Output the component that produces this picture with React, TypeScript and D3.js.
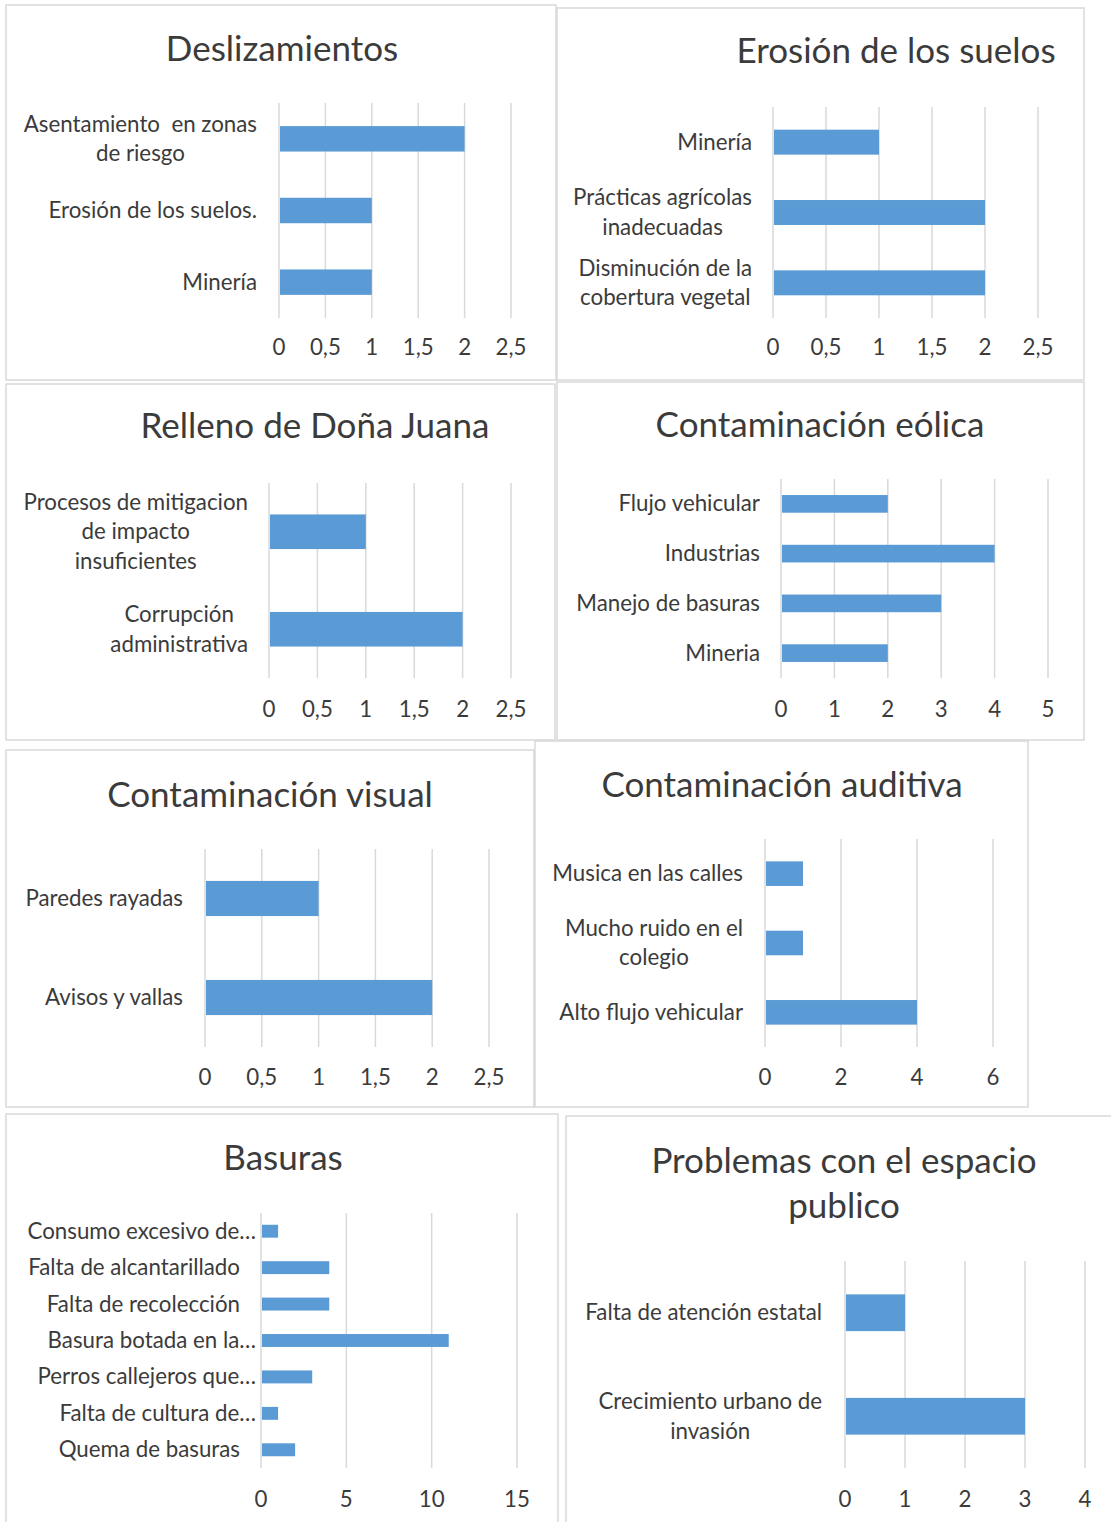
import React, { useEffect, useRef } from "react";
import * as d3 from "d3";

// chart data, categories listed top to bottom
const deslizCats = ["Asentamiento  en zonas\nde riesgo", "Erosión de los suelos.", "Minería"];
const deslizVals = [2, 1, 1];

const erosionCats = ["Minería", "Prácticas agrícolas\ninadecuadas", "Disminución de la\ncobertura vegetal"];
const erosionVals = [1, 2, 2];

const rellenoCats = ["Procesos de mitigacion\nde impacto\ninsuficientes", "Corrupción\nadministrativa"];
const rellenoVals = [1, 2];

const eolicaCats = ["Flujo vehicular", "Industrias", "Manejo de basuras", "Mineria"];
const eolicaVals = [2, 4, 3, 2];

const visualCats = ["Paredes rayadas", "Avisos y vallas"];
const visualVals = [1, 2];

const auditivaCats = ["Musica en las calles", "Mucho ruido en el\ncolegio", "Alto flujo vehicular"];
const auditivaVals = [1, 1, 4];

const basurasCats = [
  "Consumo excesivo de…",
  "Falta de alcantarillado",
  "Falta de recolección",
  "Basura botada en la…",
  "Perros callejeros que…",
  "Falta de cultura de…",
  "Quema de basuras",
];
const basurasVals = [1, 4, 4, 11, 3, 1, 2];

const espacioCats = ["Falta de atención estatal", "Crecimiento urbano de\ninvasión"];
const espacioVals = [1, 3];

// tick labels
const halfTicks = [0, 0.5, 1, 1.5, 2, 2.5];
const fiveTicks = [0, 1, 2, 3, 4, 5];
const sixTicks = [0, 2, 4, 6];
const fifteenTicks = [0, 5, 10, 15];
const fourTicks = [0, 1, 2, 3, 4];

const charts = [
  { title: ["Deslizamientos"], cats: deslizCats, vals: deslizVals, ticks: halfTicks },
  { title: ["Erosión de los suelos"], cats: erosionCats, vals: erosionVals, ticks: halfTicks },
  { title: ["Relleno de Doña Juana"], cats: rellenoCats, vals: rellenoVals, ticks: halfTicks },
  { title: ["Contaminación eólica"], cats: eolicaCats, vals: eolicaVals, ticks: fiveTicks },
  { title: ["Contaminación visual"], cats: visualCats, vals: visualVals, ticks: halfTicks },
  { title: ["Contaminación auditiva"], cats: auditivaCats, vals: auditivaVals, ticks: sixTicks },
  { title: ["Basuras"], cats: basurasCats, vals: basurasVals, ticks: fifteenTicks },
  { title: ["Problemas con el espacio", "publico"], cats: espacioCats, vals: espacioVals, ticks: fourTicks },
];

// where each panel sits on the page
const layouts = [
  { box: [6, 5, 556, 380], x: [279, 511], y: [103, 318], labelRight: 257, title: [282, 61], tickY: 348 },
  { box: [557, 8, 1084, 380], x: [773, 1038], y: [107, 318], labelRight: 752, title: [896, 63], tickY: 348 },
  { box: [6, 384, 555, 740], x: [269, 511], y: [483, 678], labelRight: 248, title: [315, 438], tickY: 710 },
  { box: [557, 382, 1084, 740], x: [781, 1048], y: [479, 678], labelRight: 760, title: [820, 437], tickY: 710 },
  { box: [6, 750, 534, 1107], x: [205, 489], y: [849, 1047], labelRight: 183, title: [270, 807], tickY: 1078 },
  { box: [535, 741, 1028, 1107], x: [765, 993], y: [839, 1047], labelRight: 743, title: [782, 797], tickY: 1078 },
  { box: [6, 1114, 558, 1540], x: [261, 517], y: [1213, 1468], labelRight: 240, ellipsisRight: 256, title: [283, 1170], tickY: 1500 },
  { box: [566, 1116, 1125, 1540], x: [845, 1085], y: [1261, 1468], labelRight: 822, title: [844, 1173], tickY: 1500 },
];

const FONT = "Lato, 'Open Sans', sans-serif";
const TEXT = "#3b3b3b";
const GRID = "#d9d9d9";
const BAR = "#5b9bd5";
const LABEL_SIZE = 22.3;
const TITLE_SIZE = 35;

const App = () => {
  const ref = useRef<SVGSVGElement>(null);

  useEffect(() => {
    const svg = d3.select(ref.current);
    svg.selectAll("*").remove();

    charts.forEach((c, i) => {
      const L: any = layouts[i];
      const g = svg.append("g");

      g.append("rect")
        .attr("x", L.box[0])
        .attr("y", L.box[1])
        .attr("width", L.box[2] - L.box[0])
        .attr("height", L.box[3] - L.box[1])
        .attr("fill", "none")
        .attr("stroke", GRID)
        .attr("stroke-width", 1.5);

      const x = d3.scaleLinear().domain([0, d3.max(c.ticks) as number]).range(L.x);
      const y = d3.scaleBand().domain(c.cats).range(L.y).paddingInner(0.645).paddingOuter(0.3225);

      // gridlines (the first one doubles as the axis line)
      g.selectAll(".grid")
        .data(c.ticks)
        .join("line")
        .attr("x1", d => x(d))
        .attr("x2", d => x(d))
        .attr("y1", L.y[0])
        .attr("y2", L.y[1])
        .attr("stroke", GRID)
        .attr("stroke-width", 1.5);

      g.selectAll(".bar")
        .data(c.vals)
        .join("rect")
        .attr("x", x(0) + 1)
        .attr("y", (d, j) => y(c.cats[j]) as number)
        .attr("width", d => x(d) - x(0) - 1)
        .attr("height", y.bandwidth())
        .attr("fill", BAR);

      // value axis labels, decimal comma
      g.selectAll(".tick")
        .data(c.ticks)
        .join("text")
        .attr("x", d => x(d))
        .attr("y", L.tickY + 7)
        .attr("text-anchor", "middle")
        .attr("font-family", FONT)
        .attr("font-size", LABEL_SIZE)
        .attr("fill", TEXT)
        .text(d => String(d).replace(".", ","));

      // category labels, multi-line ones centred on each other and right aligned as a block
      c.cats.forEach(cat => {
        const lines = cat.split("\n");
        const cy = (y(cat) as number) + y.bandwidth() / 2;
        const right = cat.endsWith("…") && L.ellipsisRight ? L.ellipsisRight : L.labelRight;
        const lh = 29.5;
        const texts = lines.map((ln, k) =>
          g.append("text")
            .attr("y", cy + (k - (lines.length - 1) / 2) * lh + 7.5)
            .attr("font-family", FONT)
            .attr("font-size", LABEL_SIZE)
            .attr("fill", TEXT)
            .style("white-space", "pre")
            .text(ln)
        );
        const widths = texts.map(t => (t.node() as SVGTextElement).getComputedTextLength());
        const maxW = Math.max(...widths);
        texts.forEach(t => t.attr("x", right - maxW / 2).attr("text-anchor", "middle"));
      });

      c.title.forEach((ln, k) => {
        g.append("text")
          .attr("x", L.title[0])
          .attr("y", L.title[1] + k * 45)
          .attr("text-anchor", "middle")
          .attr("font-family", FONT)
          .attr("font-size", TITLE_SIZE)
          .attr("fill", TEXT)
          .text(ln);
      });
    });
  }, []);

  return (
    <svg
      ref={ref}
      width="1111"
      height="1522"
      style={{ position: "absolute", left: 0, top: 0, background: "white" }}
    ></svg>
  );
};

export default App;
